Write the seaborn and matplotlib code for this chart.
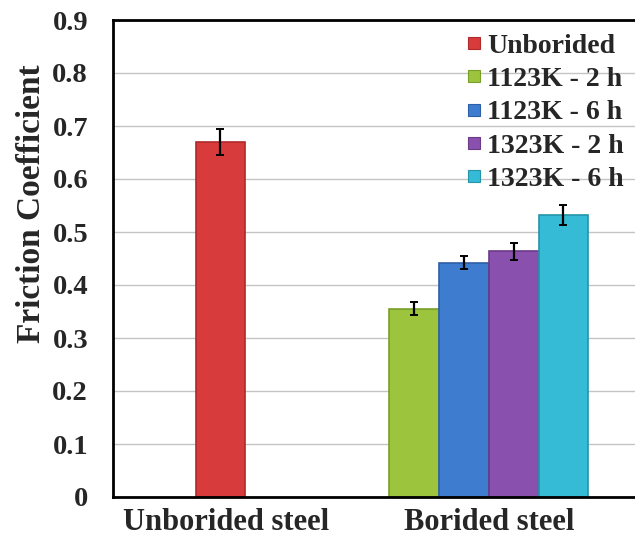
import numpy as np
import pandas as pd
import seaborn as sns
import matplotlib.pyplot as plt
from matplotlib.lines import Line2D

# values
series = ['Unborided', '1123K - 2 h', '1123K - 6 h', '1323K - 2 h', '1323K - 6 h']
friction = [0.670, 0.355, 0.442, 0.464, 0.532]
friction_err = [0.025, 0.012, 0.012, 0.016, 0.019]
groups = ['Unborided steel', 'Borided steel']
y_ticks = [0, 0.1, 0.2, 0.3, 0.4, 0.5, 0.6, 0.7, 0.8, 0.9]

# layout (bar slots along the x axis)
bar_pos = [0, 3.9, 4.9, 5.9, 6.9]
colors = ['#d83b3c', '#9cc43c', '#3d7ccf', '#8a50ad', '#35bbd5']
edge_colors = ['#b02a2b', '#7a9e2a', '#2d5fa6', '#6b3a88', '#2593aa']

df = pd.DataFrame({'pos': bar_pos, 'value': friction, 'series': series})

sns.set_style('white')
plt.rcParams['font.family'] = ['Liberation Serif', 'DejaVu Serif']
plt.rcParams['font.weight'] = 'bold'

fig = plt.figure(figsize=(6.35, 5.45), dpi=100)
ax = fig.add_axes([113 / 635, 48 / 545, 530 / 635, 477 / 545])

ax.set_axisbelow(True)
ax.yaxis.grid(True, color='#c4c4c4', linewidth=1.0)

sns.barplot(data=df, x='pos', y='value', hue='series', hue_order=series,
            palette=colors, native_scale=True, dodge=False, width=1.0,
            legend=False, saturation=1, ax=ax)

for patch, ec in zip(ax.patches, edge_colors):
    patch.set_edgecolor(ec)
    patch.set_linewidth(1.2)

ax.errorbar(bar_pos, friction, yerr=friction_err, fmt='none', ecolor='black',
            elinewidth=1.6, capsize=3, capthick=1.4, zorder=5)

ax.set_ylim(0, 0.9)
ax.set_yticks(y_ticks)
ax.set_yticklabels(['0' if v == 0 else f'{v:.1f}' for v in y_ticks], fontsize=20.5, fontweight='bold')
ax.set_xlim(-2.16, 8.5)
ax.set_xticks([bar_pos[0] + 0.12, np.mean(bar_pos[1:])])
ax.set_xticklabels(groups, fontsize=22, fontweight='bold')
ax.tick_params(axis='y', length=0, pad=18)
ax.tick_params(axis='x', length=0, pad=8)

ax.set_xlabel('')
ax.set_ylabel('Friction Coefficient', fontsize=24, fontweight='bold')
ax.yaxis.set_label_coords(-0.125, 0.615)

for side in ['left', 'bottom', 'top']:
    ax.spines[side].set_color('black')
    ax.spines[side].set_linewidth(2.0)
ax.spines['right'].set_visible(False)

handles = [Line2D([], [], marker='s', linestyle='none', markersize=8,
                  markerfacecolor=c, markeredgecolor=ec, markeredgewidth=0.8)
           for c, ec in zip(colors, edge_colors)]
ax.legend(handles, series, loc='upper left', bbox_to_anchor=(0.645, 0.995),
          frameon=False, prop={'size': 20, 'weight': 'bold'},
          handlelength=0.6, handletextpad=0.15, labelspacing=0.28, borderaxespad=0)

fig.savefig('out.png', dpi=100)
